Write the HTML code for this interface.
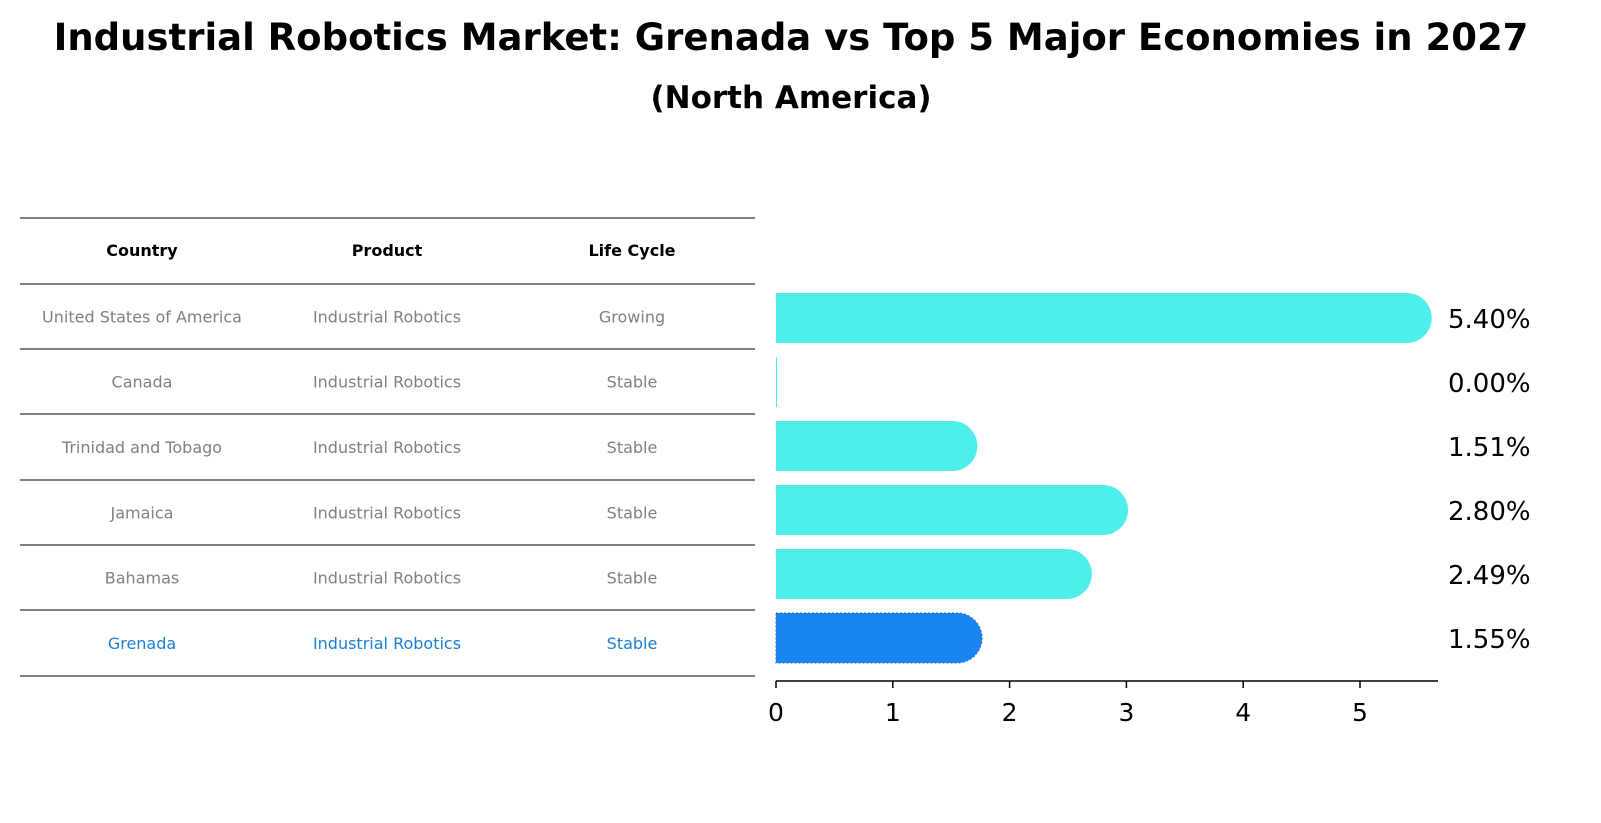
<!DOCTYPE html>
<html><head><meta charset="utf-8"><style>
html,body{margin:0;padding:0;background:#fff;overflow:hidden;font-family:"DejaVu Sans","Liberation Sans",sans-serif;}
svg{display:block}
</style></head><body>
<svg width="1601" height="823" viewBox="0 0 1601 823">
<text x="791" y="50" text-anchor="middle" font-size="37" font-weight="bold" font-family="DejaVu Sans, Liberation Sans, sans-serif">Industrial Robotics Market: Grenada vs Top 5 Major Economies in 2027</text>
<text x="791" y="108" text-anchor="middle" font-size="31" font-weight="bold" font-family="DejaVu Sans, Liberation Sans, sans-serif">(North America)</text>
<g id="table"></g>
<g id="bars"></g>
</svg>
<script>
const countries=["United States of America","Canada","Trinidad and Tobago","Jamaica","Bahamas","Grenada"];
const products=["Industrial Robotics","Industrial Robotics","Industrial Robotics","Industrial Robotics","Industrial Robotics","Industrial Robotics"];
const lifeCycles=["Growing","Stable","Stable","Stable","Stable","Stable"];
const values=[5.40,0.00,1.51,2.80,2.49,1.55];
const tickValues=[0,1,2,3,4,5];
const NS="http://www.w3.org/2000/svg";
function mk(tag,attrs,parent){const e=document.createElementNS(NS,tag);for(const k in attrs)e.setAttribute(k,attrs[k]);parent.appendChild(e);return e;}
const tbl=document.getElementById('table');
const lineYs=[218,284,349,414,480,545,610,676];
lineYs.forEach((y,i)=>{const l=mk('line',{x1:20,x2:755,y1:y,y2:y,stroke:'#000','stroke-width':1},tbl);

});
const colX=[142,387,632];
["Country","Product","Life Cycle"].forEach((h,i)=>{const t=mk('text',{x:colX[i],y:256,'text-anchor':'middle','font-size':16,'font-weight':'bold','font-family':'DejaVu Sans, sans-serif'},tbl);t.textContent=h;

});
countries.forEach((c,r)=>{const y=(lineYs[r+1]+lineYs[r+2])/2+6;const col=r===countries.length-1?'#1a7fd4':'#808080';
[c,products[r],lifeCycles[r]].forEach((v,i)=>{const t=mk('text',{x:colX[i],y:y,'text-anchor':'middle','font-size':16,fill:col,'font-family':'DejaVu Sans, sans-serif'},tbl);t.textContent=v;

});});
const g=document.getElementById('bars');
const x0=776,pxPer=116.8;const xs=v=>x0+v*pxPer;
const rowY=i=>318+i*64;const bh=50,rad=25;
values.forEach((v,i)=>{const cy=rowY(i);const xe=xs(v);const grenada=i===values.length-1;
const fill=grenada?'#1a85f0':'#4eeeea';
let d;
if(v<=0){d=`M${x0},${cy-bh/2} h1 v${bh} h-1 Z`;}
else{d=`M${x0},${cy-bh/2} H${xe} A${rad},${rad} 0 0 1 ${xe},${cy+bh/2} H${x0} Z`;}
const p=mk('path',{d:d,fill:fill},g);
if(grenada){p.setAttribute('stroke','#1a6fd0');p.setAttribute('stroke-dasharray','2,2');}


const t=mk('text',{x:1448,y:cy+10,'font-size':26,'font-family':'DejaVu Sans, sans-serif'},g);t.textContent=v.toFixed(2)+'%';

});
const ax=mk('line',{x1:x0,x2:1438,y1:681,y2:681,stroke:'#000','stroke-width':1.5},g);


tickValues.forEach(v=>{const l=mk('line',{x1:xs(v),x2:xs(v),y1:681,y2:688,stroke:'#000','stroke-width':1.5},g);


const t=mk('text',{x:xs(v),y:721,'text-anchor':'middle','font-size':25,'font-family':'DejaVu Sans, sans-serif'},g);t.textContent=v;

});
</script>
</body></html>
